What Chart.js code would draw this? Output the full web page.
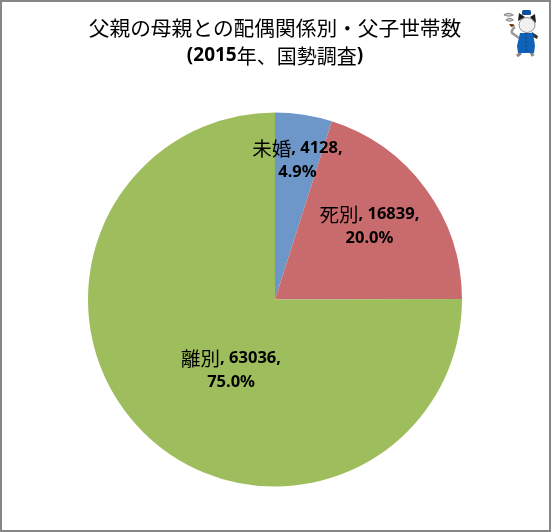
<!DOCTYPE html>
<html lang="ja">
<head>
<meta charset="utf-8">
<script src="https://cdn.jsdelivr.net/npm/chart.js@4"></script>
<style>
    html, body { margin: 0; padding: 0; background: #fff; }
    #frame { position: relative; width: 551px; height: 532px; box-sizing: border-box; border: 2px solid #868686; overflow: hidden; }
    #chart { position: absolute; left: -2px; top: -2px; }
    #mascot { position: absolute; left: 498px; top: 6px; }
</style>
</head>
<body>
<div id="frame">
    <canvas id="chart" width="551" height="532"></canvas>
    <svg id="mascot" width="40" height="50" viewBox="0 0 40 50">
        <path d="M4 7 q4 -3 9 0 q-4 2 -9 0 M6 12 q4 -3 7 0 q-3 2 -7 0" fill="none" stroke="#8a8a8a" stroke-width="1.3"/>
        <path d="M9 16 h4 l2 2 l-4 1 z" fill="#7a3a10"/>
        <path d="M15 19 q-4 3 -3 6 l7 5" fill="none" stroke="#999" stroke-width="2.6"/>
        <path d="M32 24 l6 4 l-1 3 l-6 -3 z" fill="#333"/>
        <path d="M21 45 l-4 3 M31 44 l2 4" stroke="#888" stroke-width="3.2"/>
        <ellipse cx="27" cy="17" rx="8" ry="7.5" fill="#f0f0f0" stroke="#666" stroke-width=".7"/>
        <path d="M18 13 l1 -8 l6 4 z M30 9 l5 -3 l1 9 z" fill="#1d1d1d"/>
        <rect x="22" y="2" width="9" height="5" rx="1.5" fill="#0b4f9c"/>
        <path d="M20 25 h13 l2 13 l-1 7 h-16 l-1 -7 z" fill="#0f62b8"/>
        <path d="M26 25 v20" stroke="#0a3f80" stroke-width="1" stroke-dasharray="2 2"/>
    </svg>
</div>
<script>
const categories = ['未婚', '死別', '離別'];
const households = [4128, 16839, 63036];
const shareLabels = ['4.9%', '20.0%', '75.0%'];
const sliceColors = ['#6d97c9', '#cb6a68', '#9ebd5c'];
const titleLine = '父親の母親との配偶関係別・父子世帯数';
const subtitleParts = [['(2015', 'b'], ['年、国勢調査', 'n'], [')', 'b']];

const latinFont = '"Noto Sans", "Noto Sans CJK JP"';
const cjkFont = '"Noto Sans CJK JP"';
// label centres relative to the pie, in radii
const labelSpots = [[0.12, -0.745], [0.505, -0.39], [-0.235, 0.38]];

// the red slice has a faint dither in the original
function ditherFill(base, dot) {
    const c = document.createElement('canvas');
    c.width = 4;
    c.height = 4;
    const g = c.getContext('2d');
    g.fillStyle = base;
    g.fillRect(0, 0, 4, 4);
    g.fillStyle = dot;
    g.fillRect(0, 0, 1, 1);
    g.fillRect(2, 2, 1, 1);
    return g.createPattern(c, 'repeat');
}

const labelPlugin = {
    id: 'sliceLabels',
    afterDatasetsDraw(chart) {
        const ctx = chart.ctx;
        const arcs = chart.getDatasetMeta(0).data;
        ctx.save();
        ctx.fillStyle = '#000';
        ctx.textBaseline = 'middle';
        arcs.forEach((arc, i) => {
            const cx = arc.x + labelSpots[i][0] * arc.outerRadius;
            const cy = arc.y + labelSpots[i][1] * arc.outerRadius;
            const name = categories[i];
            const val = ', ' + households[i] + ',';
            ctx.font = '19.5px ' + cjkFont;
            const nameW = ctx.measureText(name).width;
            ctx.font = 'bold 16.5px ' + latinFont;
            const valW = ctx.measureText(val).width;
            const left = cx - (nameW + valW) / 2;
            ctx.textAlign = 'left';
            ctx.font = '19.5px ' + cjkFont;
            ctx.fillText(name, left, cy - 12);
            ctx.font = 'bold 16.5px ' + latinFont;
            ctx.fillText(val, left + nameW, cy - 12);
            ctx.textAlign = 'center';
            ctx.fillText(shareLabels[i], cx, cy + 12);
        });
        ctx.restore();
    }
};

const titlePlugin = {
    id: 'twoFontTitle',
    afterDraw(chart) {
        const ctx = chart.ctx;
        const mid = 275;
        ctx.save();
        ctx.fillStyle = '#000';
        ctx.textBaseline = 'middle';
        ctx.textAlign = 'center';
        ctx.font = '20.7px ' + cjkFont;
        ctx.fillText(titleLine, mid, 28);
        const fontOf = k => k === 'b' ? 'bold 19px ' + latinFont : '20px ' + cjkFont;
        let total = 0;
        subtitleParts.forEach(p => { ctx.font = fontOf(p[1]); total += ctx.measureText(p[0]).width; });
        let x = mid - total / 2;
        ctx.textAlign = 'left';
        subtitleParts.forEach(p => {
            ctx.font = fontOf(p[1]);
            ctx.fillText(p[0], x, 56);
            x += ctx.measureText(p[0]).width;
        });
        ctx.restore();
    }
};

new Chart(document.getElementById('chart'), {
    type: 'pie',
    data: {
        labels: categories,
        datasets: [{
            data: households,
            backgroundColor: [sliceColors[0], ditherFill(sliceColors[1], '#c0707a'), sliceColors[2]],
            borderWidth: 0
        }]
    },
    options: {
        responsive: false,
        animation: false,
        layout: { padding: { left: 88, right: 89, top: 112, bottom: 45 } },
        plugins: {
            legend: { display: false },
            tooltip: { enabled: false }
        }
    },
    plugins: [labelPlugin, titlePlugin]
});
</script>
</body>
</html>
